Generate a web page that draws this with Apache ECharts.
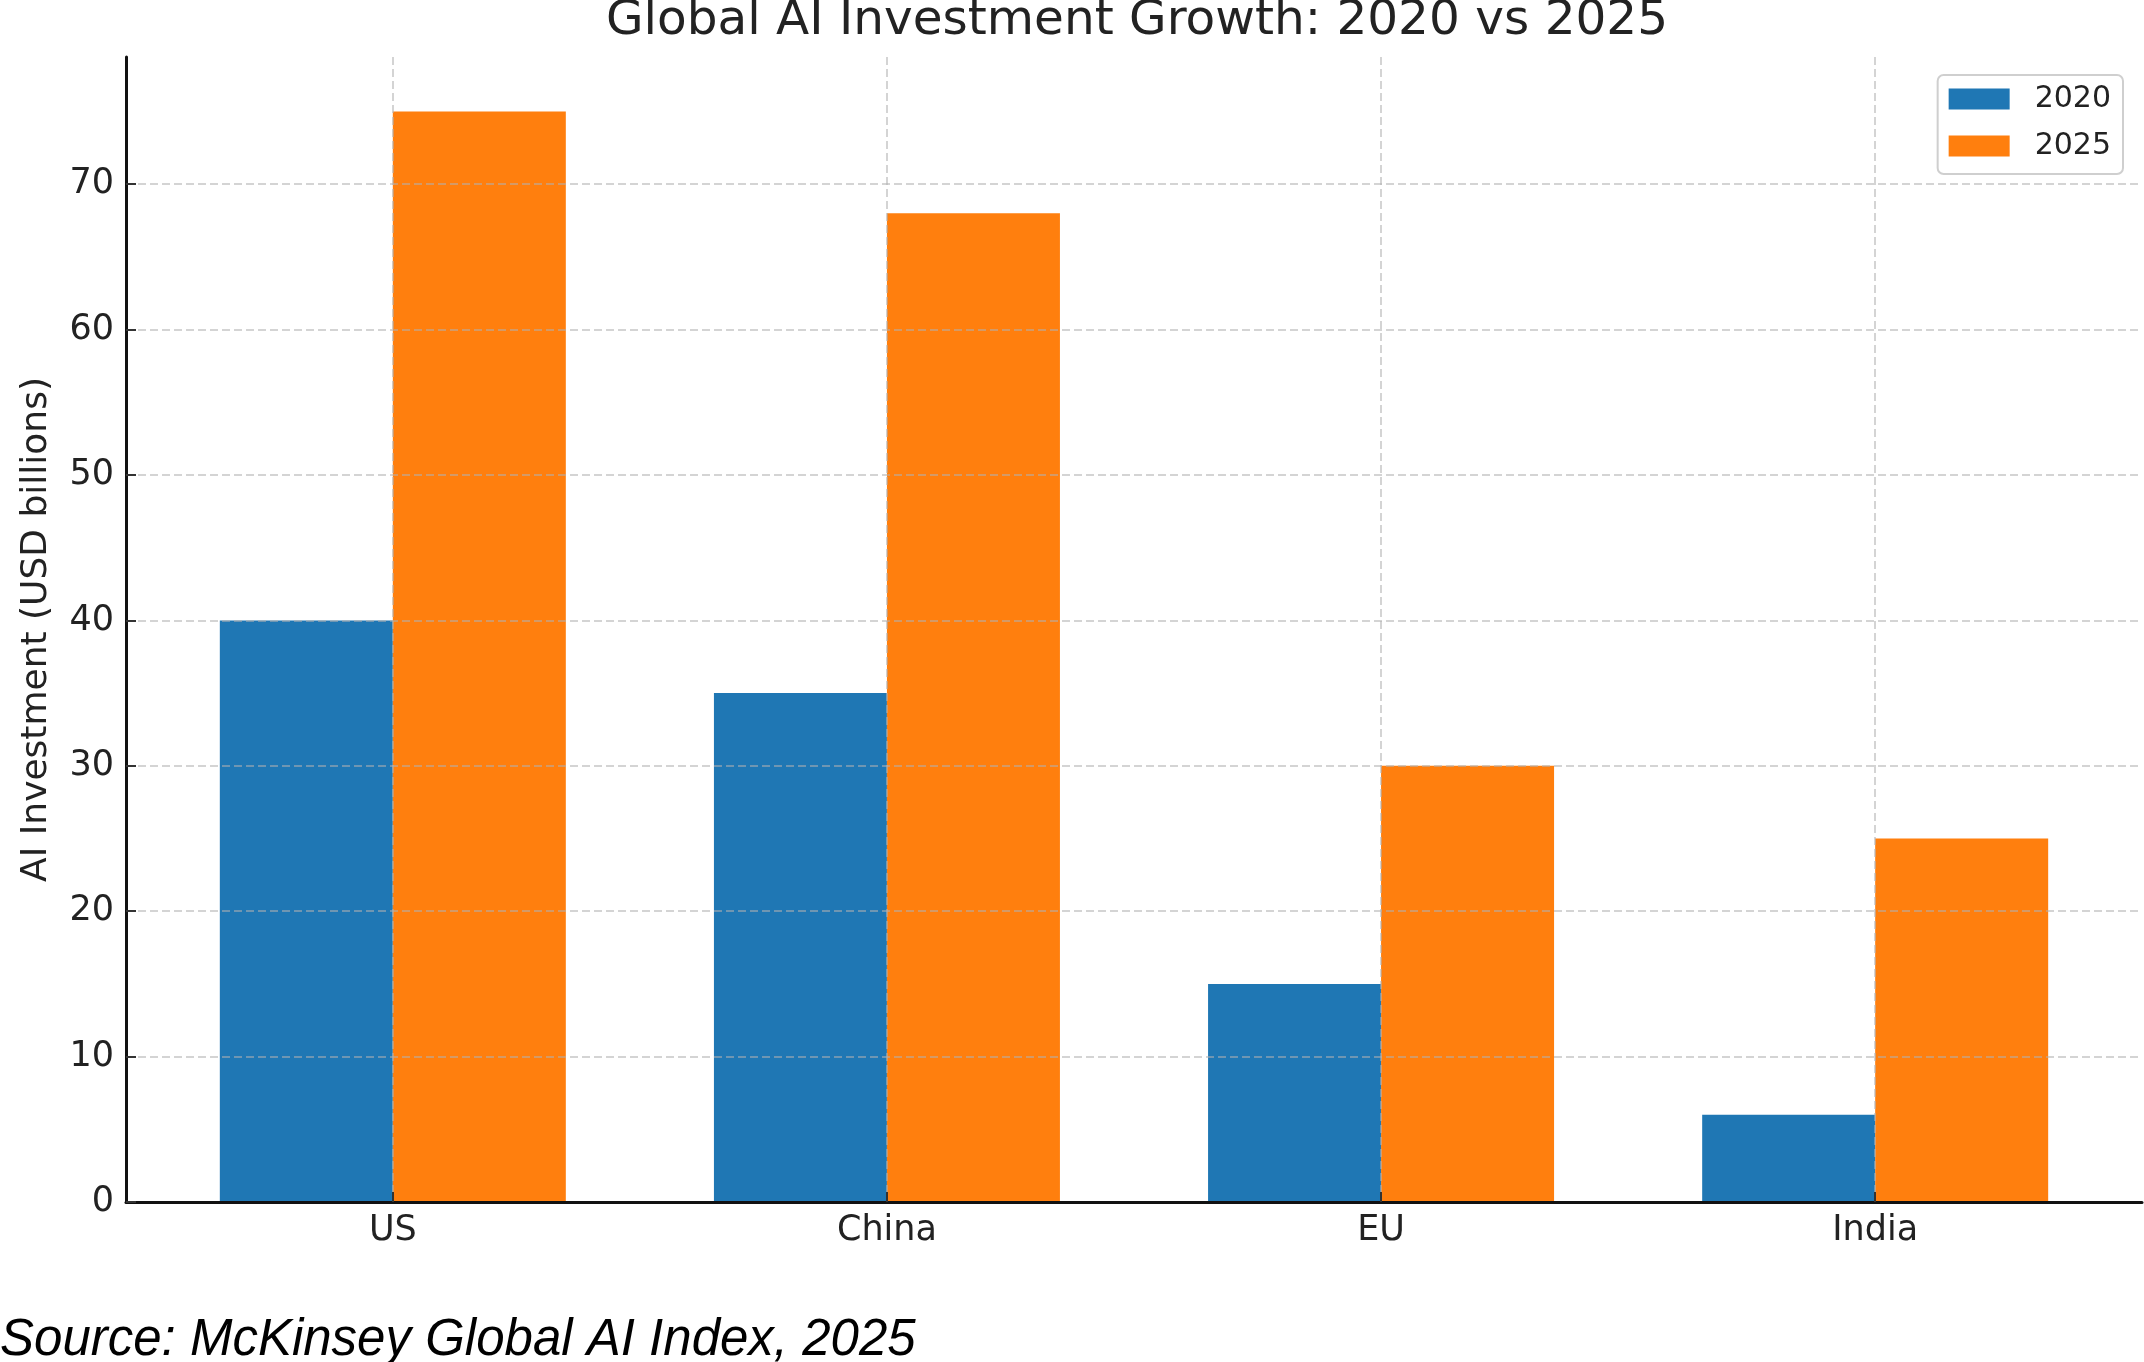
<!DOCTYPE html>
<html>
<head>
<meta charset="utf-8">
<title>Global AI Investment Growth</title>
<script src="https://cdn.jsdelivr.net/npm/echarts@6/dist/echarts.min.js"></script>
<style>
  html, body { margin: 0; padding: 0; background: #fff; }
  #main { width: 2144px; height: 1362px; }
</style>
</head>
<body>
<div id="main"></div>
<script>
var myChart = echarts.init(document.getElementById('main'));

var regions = ['US', 'China', 'EU', 'India'];
var invest_2020 = [40, 35, 15, 6];
var invest_2025 = [75, 68, 30, 25];
var yTicks = [0, 10, 20, 30, 40, 50, 60, 70];

var font = 'DejaVu Sans';
var gridColor = 'rgba(176,176,176,0.55)';

// bars sit on a value axis so the plot margins can match the original
function toPoints(values) {
    return values.map(function (v, i) { return [i, v]; });
}
var regionIdx = regions.map(function (r, i) { return i; });

var option = {
    backgroundColor: '#fff',
    color: ['#1f77b4', '#ff7f0e'],
    animation: false,
    title: {
        text: 'Global AI Investment Growth: 2020 vs 2025',
        left: 1132,
        textAlign: 'center',
        top: -8,
        textStyle: {
            fontFamily: font,
            fontWeight: 'normal',
            fontSize: 48.5,
            color: '#222'
        }
    },
    legend: {
        data: ['2020', '2025'],
        orient: 'vertical',
        right: 21,
        top: 75,
        padding: [9, 12, 13, 11],
        itemWidth: 61,
        itemHeight: 21,
        itemGap: 17,
        icon: 'rect',
        borderColor: '#cfcfcf',
        borderWidth: 2,
        borderRadius: 6,
        textStyle: {
            fontFamily: font,
            fontSize: 30,
            lineHeight: 30,
            color: '#222',
            padding: [0, 0, 0, 20]
        }
    },
    grid: {
        left: 126,
        right: 2,
        top: 57,
        bottom: 160
    },
    xAxis: {
        type: 'value',
        min: -0.54,
        max: 3.54,
        z: 3,
        axisLine: {
            lineStyle: { color: '#111', width: 3 }
        },
        axisTick: {
            inside: true,
            length: 10,
            customValues: regionIdx,
            lineStyle: { color: '#333', width: 2 }
        },
        axisLabel: {
            customValues: regionIdx,
            margin: 11,
            fontFamily: font,
            fontSize: 35,
            color: '#222',
            formatter: function (v) { return regions[Math.round(v)]; }
        },
        splitLine: {
            show: true,
            lineStyle: { color: gridColor, width: 2, type: [8, 4] }
        }
    },
    yAxis: {
        type: 'value',
        min: 0,
        max: 78.75,
        interval: 10,
        z: 3,
        name: 'AI Investment (USD billions)',
        nameLocation: 'middle',
        nameGap: 71,
        nameTextStyle: {
            fontFamily: font,
            fontSize: 36,
            color: '#222'
        },
        axisLine: {
            show: true,
            onZero: false,
            lineStyle: { color: '#111', width: 3 }
        },
        axisTick: {
            show: true,
            inside: true,
            length: 10,
            customValues: yTicks,
            lineStyle: { color: '#333', width: 2 }
        },
        axisLabel: {
            customValues: yTicks,
            margin: 12,
            fontFamily: font,
            fontSize: 35,
            color: '#222'
        },
        splitLine: {
            show: true,
            lineStyle: { color: gridColor, width: 2, type: [8, 4] }
        }
    },
    graphic: [
        {
            type: 'text',
            left: 0,
            top: 1315,
            style: {
                text: 'Source: McKinsey Global AI Index, 2025',
                font: 'italic 51px "Liberation Sans"',
                fill: '#000'
            }
        }
    ],
    series: [
        {
            name: '2020',
            type: 'bar',
            barWidth: 173,
            barGap: '0%',
            data: toPoints(invest_2020)
        },
        {
            name: '2025',
            type: 'bar',
            barWidth: 173,
            barGap: '0%',
            data: toPoints(invest_2025)
        }
    ]
};

myChart.setOption(option);
</script>
</body>
</html>
